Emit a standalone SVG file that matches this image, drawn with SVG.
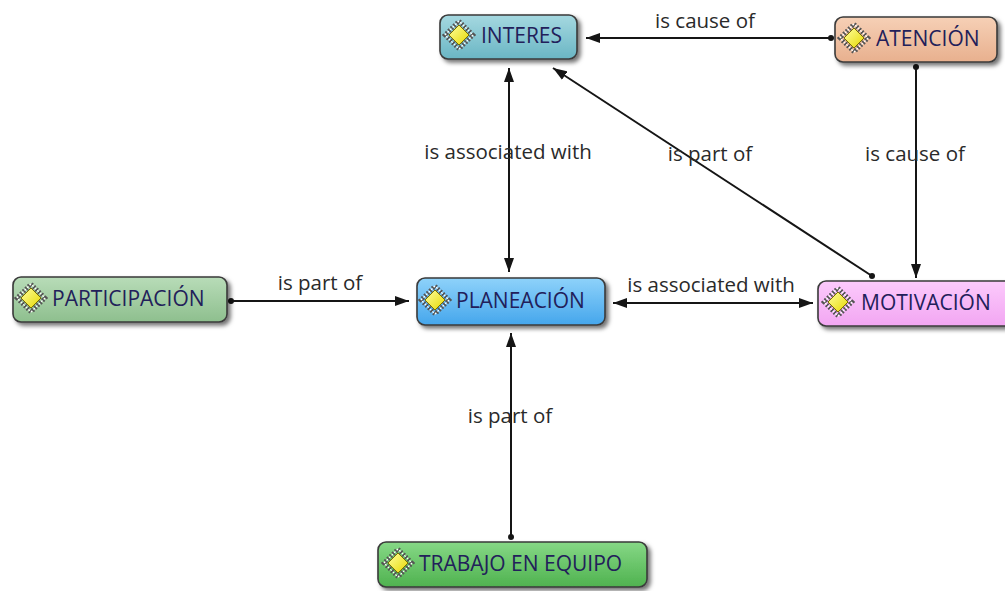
<svg xmlns="http://www.w3.org/2000/svg" xmlns:xlink="http://www.w3.org/1999/xlink" width="1005" height="591" viewBox="0 0 1005 591">
<style>
.node rect{stroke:#3a3a3a;stroke-width:1.6}
.nt{font-family:"Open Sans","DejaVu Sans",sans-serif;font-size:21px;fill:#22205a}
.lbl{font-family:"Open Sans","DejaVu Sans",sans-serif;font-size:20.5px;fill:#2a2a2a;text-anchor:middle}
.conn line{stroke:#151515;stroke-width:2}
.dot{fill:#151515}
</style>
<defs>
<filter id="sh" x="-10%" y="-20%" width="130%" height="160%">
<feDropShadow dx="3" dy="3" stdDeviation="2" flood-color="#000" flood-opacity="0.55"/>
</filter>
<marker id="arr" viewBox="0 0 14 10" refX="14" refY="5" markerWidth="14" markerHeight="10" markerUnits="userSpaceOnUse" orient="auto-start-reverse">
<path d="M0,0 L14,5 L0,10 z" fill="#151515"/>
</marker>
<linearGradient id="gInt" x1="0" y1="0" x2="0" y2="1"><stop offset="0" stop-color="#a5d8e0"/><stop offset="1" stop-color="#6ab6c4"/></linearGradient>
<linearGradient id="gAte" x1="0" y1="0" x2="0" y2="1"><stop offset="0" stop-color="#f6d0b6"/><stop offset="1" stop-color="#e8b08e"/></linearGradient>
<linearGradient id="gPla" x1="0" y1="0" x2="0" y2="1"><stop offset="0" stop-color="#8ed2fa"/><stop offset="1" stop-color="#45a6ec"/></linearGradient>
<linearGradient id="gMot" x1="0" y1="0" x2="0" y2="1"><stop offset="0" stop-color="#fccafc"/><stop offset="1" stop-color="#f2a6f2"/></linearGradient>
<linearGradient id="gPar" x1="0" y1="0" x2="0" y2="1"><stop offset="0" stop-color="#b8dcb8"/><stop offset="1" stop-color="#8ebf8e"/></linearGradient>
<linearGradient id="gTra" x1="0" y1="0" x2="0" y2="1"><stop offset="0" stop-color="#86d886"/><stop offset="1" stop-color="#4fb24f"/></linearGradient>
<linearGradient id="gIc" x1="0" y1="0" x2="1" y2="1"><stop offset="0" stop-color="#ffffa0"/><stop offset="1" stop-color="#e6d800"/></linearGradient>
<g id="icon">
<path d="M0,-14 L14,0 L0,14 L-14,0 z" fill="none" stroke="#555" stroke-width="4.5" stroke-dasharray="1.8 1.8"/>
<path d="M0,-14 L14,0 L0,14 L-14,0 z" fill="none" stroke="#fff" stroke-width="1.2" stroke-dasharray="1.8 1.8" stroke-dashoffset="1.8"/>
<path d="M0,-10 L10,0 L0,10 L-10,0 z" fill="url(#gIc)" stroke="#7a6e00" stroke-width="1"/>
</g>
</defs>
<rect width="1005" height="591" fill="#fff"/>

<g id="connectors" class="conn">
<line x1="831" y1="38" x2="586" y2="38" marker-end="url(#arr)"/>
<circle class="dot" cx="831" cy="38" r="3"/>
<line x1="916" y1="67" x2="916" y2="278" marker-end="url(#arr)"/>
<circle class="dot" cx="916" cy="67" r="3"/>
<line x1="872" y1="276" x2="553" y2="68" marker-end="url(#arr)"/>
<circle class="dot" cx="872" cy="276" r="3"/>
<line x1="509" y1="68" x2="509" y2="272" marker-start="url(#arr)" marker-end="url(#arr)"/>
<line x1="613" y1="303" x2="813" y2="303" marker-start="url(#arr)" marker-end="url(#arr)"/>
<line x1="231" y1="301" x2="409" y2="301" marker-end="url(#arr)"/>
<circle class="dot" cx="231" cy="301" r="3"/>
<line x1="511" y1="537" x2="511" y2="333" marker-end="url(#arr)"/>
<circle class="dot" cx="511" cy="537" r="3"/>
<text class="lbl" x="705" y="28">is cause of</text>
<text class="lbl" x="915" y="161">is cause of</text>
<text class="lbl" x="710" y="161">is part of</text>
<text class="lbl" x="508" y="159">is associated with</text>
<text class="lbl" x="711" y="292">is associated with</text>
<text class="lbl" x="320" y="290">is part of</text>
<text class="lbl" x="510" y="423">is part of</text>
</g>

<g id="n-interes" class="node">
<rect x="440" y="15" width="137" height="44" rx="8" fill="url(#gInt)" filter="url(#sh)"/>
<use xlink:href="#icon" x="459" y="35"/>
<text class="nt" x="481" y="43">INTERES</text>
</g>
<g id="n-atencion" class="node">
<rect x="835" y="17" width="162" height="45" rx="8" fill="url(#gAte)" filter="url(#sh)"/>
<use xlink:href="#icon" x="854" y="38"/>
<text class="nt" x="876" y="46">ATENCIÓN</text>
</g>
<g id="n-planeacion" class="node">
<rect x="417" y="278" width="188" height="47" rx="8" fill="url(#gPla)" filter="url(#sh)"/>
<use xlink:href="#icon" x="435" y="300"/>
<text class="nt" x="456" y="308">PLANEACIÓN</text>
</g>
<g id="n-motivacion" class="node">
<rect x="818" y="281" width="200" height="45" rx="8" fill="url(#gMot)" filter="url(#sh)"/>
<use xlink:href="#icon" x="838" y="302"/>
<text class="nt" x="861" y="310">MOTIVACIÓN</text>
</g>
<g id="n-participacion" class="node">
<rect x="13" y="277" width="214" height="45" rx="8" fill="url(#gPar)" filter="url(#sh)"/>
<use xlink:href="#icon" x="31" y="298"/>
<text class="nt" x="52" y="306">PARTICIPACIÓN</text>
</g>
<g id="n-trabajo" class="node">
<rect x="378" y="542" width="269" height="45" rx="8" fill="url(#gTra)" filter="url(#sh)"/>
<use xlink:href="#icon" x="398" y="563"/>
<text class="nt" x="419" y="571">TRABAJO EN EQUIPO</text>
</g>
</svg>
